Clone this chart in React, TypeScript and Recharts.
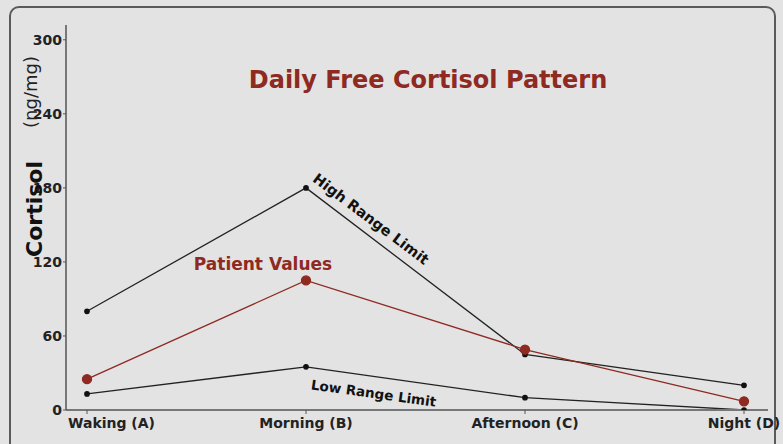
import React from "react";
import { LineChart, Line, XAxis, YAxis } from "recharts";

const categories = ["Waking (A)", "Morning (B)", "Afternoon (C)", "Night (D)"];
const highLimit = [80, 180, 45, 20];
const patientValues = [25, 105, 49, 7];
const lowLimit = [13, 35, 10, 0];
const yTicks = [0, 60, 120, 180, 240, 300];

const data = categories.map((c, i) => ({
  name: c,
  high: highLimit[i],
  patient: patientValues[i],
  low: lowLimit[i],
}));

const RED = "#8e2a22";
const FONT = "'DejaVu Sans', sans-serif";

const XTick = (props: any) => {
  const { x, y, payload, index } = props;
  const first = index === 0;
  return (
    <text
      x={first ? x - 19 : x}
      y={y + 12}
      textAnchor={first ? "start" : "middle"}
      fill="#222"
      fontSize={14}
      fontWeight="bold"
      fontFamily={FONT}
    >
      {payload.value}
    </text>
  );
};

export default function App() {
  return (
    <div style={{ position: "absolute", left: 0, top: 0, width: 783, height: 444, background: "#e3e3e3", overflow: "hidden", fontFamily: FONT }}>
      <div style={{ position: "absolute", left: 9, top: 6, width: 767, height: 460, border: "2px solid #5a5a5a", borderRadius: 10, boxSizing: "border-box" }} />
      <div style={{ position: "absolute", left: 0, top: 0 }}>
        <LineChart width={783} height={444} data={data} margin={{ top: 25, right: 15, bottom: 4, left: 36 }}>
          <XAxis
            dataKey="name"
            height={30}
            padding={{ left: 21, right: 24 }}
            axisLine={{ stroke: "#777", strokeWidth: 2 }}
            tickLine={{ stroke: "#555" }}
            tickSize={4}
            tick={<XTick />}
            interval={0}
          />
          <YAxis
            width={30}
            domain={[0, 312]}
            ticks={yTicks}
            allowDataOverflow
            axisLine={{ stroke: "#555", strokeWidth: 1.5 }}
            tickLine={{ stroke: "#555" }}
            tickSize={3}
            tickMargin={1}
            tick={{ fill: "#222", fontSize: 14, fontWeight: "bold", fontFamily: FONT }}
          />
          <Line type="linear" dataKey="high" stroke="#222" strokeWidth={1.3} dot={{ r: 2.2, fill: "#111", stroke: "#111" }} isAnimationActive={false} />
          <Line type="linear" dataKey="low" stroke="#222" strokeWidth={1.3} dot={{ r: 2.2, fill: "#111", stroke: "#111" }} isAnimationActive={false} />
          <Line type="linear" dataKey="patient" stroke={RED} strokeWidth={1.3} dot={{ r: 4.5, fill: RED, stroke: RED }} isAnimationActive={false} />
        </LineChart>
      </div>
      <svg width={783} height={444} style={{ position: "absolute", left: 0, top: 0, pointerEvents: "none" }}>
        <text x={428} y={88} textAnchor="middle" fill={RED} fontSize={24} fontWeight="bold" fontFamily={FONT}>Daily Free Cortisol Pattern</text>
        <text transform="translate(42,209) rotate(-90)" textAnchor="middle" fill="#111" fontSize={22} fontWeight="bold" fontFamily={FONT}>Cortisol</text>
        <text transform="translate(37,92) rotate(-90)" textAnchor="middle" fill="#222" fontSize={18} fontFamily={FONT}>(ng/mg)</text>
        <text x={263} y={270} textAnchor="middle" fill={RED} fontSize={17} fontWeight="bold" fontFamily={FONT}>Patient Values</text>
        <text transform="translate(368,223) rotate(37)" textAnchor="middle" fill="#111" fontSize={14.5} fontWeight="bold" fontFamily={FONT}>High Range Limit</text>
        <text transform="translate(373,398) rotate(8)" textAnchor="middle" fill="#111" fontSize={13.5} fontWeight="bold" fontFamily={FONT}>Low Range Limit</text>
      </svg>
    </div>
  );
}
